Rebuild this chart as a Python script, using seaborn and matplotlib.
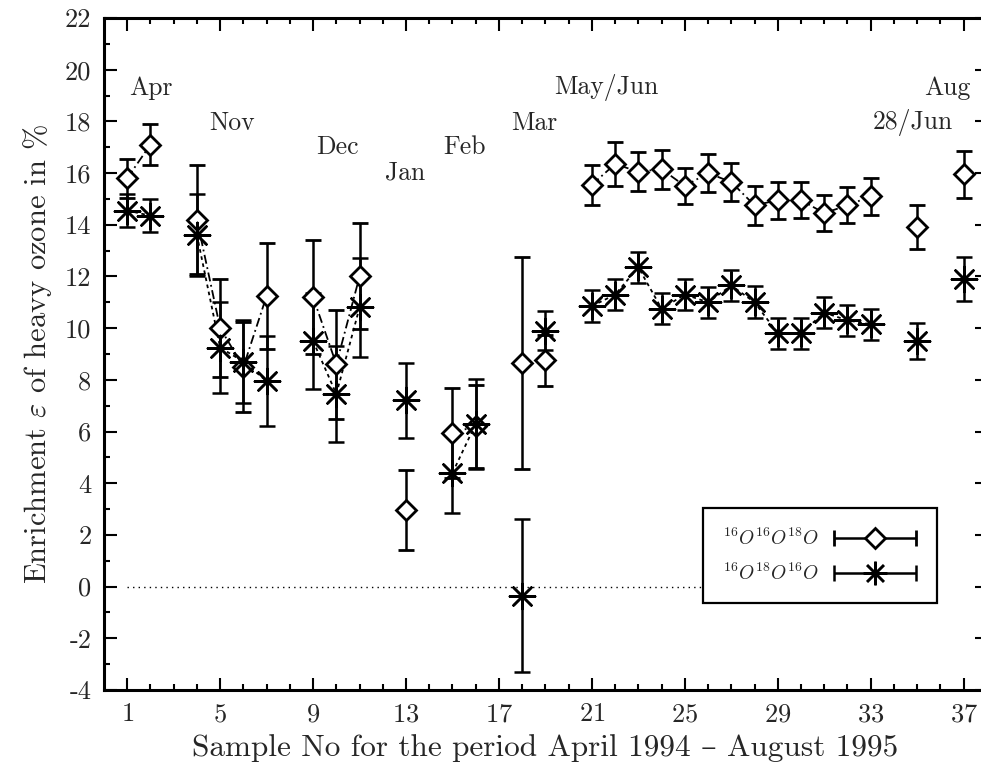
import numpy as np
import pandas as pd
import seaborn as sns
import matplotlib.pyplot as plt
from matplotlib.container import ErrorbarContainer
from matplotlib.legend_handler import HandlerErrorbar

# sample numbers and line segments (points in the same segment are joined)
samples = [1, 2, 4, 5, 6, 7, 9, 10, 11, 13, 15, 16, 18, 19,
           21, 22, 23, 24, 25, 26, 27, 28, 29, 30, 31, 32, 33, 35, 37]
segment = [0, 0, 1, 1, 1, 1, 2, 2, 2, 3, 4, 4, 5, 6,
           7, 7, 7, 7, 7, 7, 7, 7, 7, 7, 7, 7, 7, 8, 9]

# 16O16O18O (diamonds)
eps_668 = [15.8, 17.1, 14.2, 10.0, 8.5, 11.25, 11.2, 8.6, 12.0, 2.95, 5.95, 6.2, 8.65, 8.75,
           15.55, 16.35, 16.05, 16.15, 15.5, 16.0, 15.65, 14.75, 14.95, 14.95, 14.45, 14.75, 15.1,
           13.9, 15.95]
err_668 = [0.75, 0.8, 2.1, 1.9, 1.75, 2.05, 2.2, 2.1, 2.05, 1.55, 1.75, 1.6, 4.1, 1.0,
           0.78, 0.85, 0.75, 0.75, 0.7, 0.75, 0.75, 0.75, 0.72, 0.7, 0.7, 0.7, 0.72,
           0.85, 0.9]

# 16O18O16O (stars)
eps_686 = [14.55, 14.35, 13.6, 9.25, 8.7, 7.95, 9.5, 7.45, 10.8, 7.2, 4.4, 6.3, -0.35, 9.9,
           10.85, 11.3, 12.35, 10.75, 11.3, 11.0, 11.65, 11.0, 9.8, 9.8, 10.6, 10.3, 10.15,
           9.5, 11.9]
err_686 = [0.65, 0.65, 1.6, 1.75, 1.6, 1.75, 1.85, 1.85, 1.9, 1.45, 1.55, 1.75, 2.95, 0.75,
           0.63, 0.6, 0.6, 0.6, 0.6, 0.6, 0.6, 0.62, 0.6, 0.6, 0.6, 0.6, 0.6,
           0.7, 0.85]

months = ['Apr', 'Nov', 'Dec', 'Jan', 'Feb', 'Mar', 'May/Jun', 'Aug', '28/Jun']
month_x = [2.0, 5.5, 10.05, 12.95, 15.5, 18.5, 21.6, 36.3, 34.8]
month_y = [19.3, 17.95, 17.0, 16.0, 17.0, 17.95, 19.3, 19.3, 17.95]

df = pd.DataFrame({'sample': samples, 'seg': segment,
                   'e668': eps_668, 's668': err_668,
                   'e686': eps_686, 's686': err_686})

sns.set_theme(style='ticks')
plt.rcParams['font.family'] = ['cmr10', 'DejaVu Serif']
plt.rcParams['mathtext.fontset'] = 'cm'
plt.rcParams['axes.formatter.use_mathtext'] = True
plt.rcParams['axes.unicode_minus'] = False

fig = plt.figure(figsize=(9.81, 7.68), dpi=100)
ax = fig.add_axes([0.106, 0.1016, 0.900, 0.875])

# connecting lines
sns.lineplot(data=df, x='sample', y='e668', units='seg', estimator=None, sort=False,
             color='black', lw=1.3, linestyle=(0, (5, 2, 1, 2)), ax=ax)
sns.lineplot(data=df, x='sample', y='e686', units='seg', estimator=None, sort=False,
             color='black', lw=1.3, linestyle=(0, (2, 2)), ax=ax)

star = (8, 2, 0)
ax.errorbar(df['sample'], df['e668'], yerr=df['s668'], fmt='D', ms=10.5, mfc='white',
            mec='black', mew=2, ecolor='black', elinewidth=1.8, capsize=6, capthick=1.8,
            color='black', zorder=3)
ax.errorbar(df['sample'], df['e686'], yerr=df['s686'], fmt='none', ecolor='black',
            elinewidth=1.8, capsize=6, capthick=1.8, zorder=3)
sns.scatterplot(data=df, x='sample', y='e686', marker=star, s=330, color='black',
                linewidth=1.8, ax=ax, zorder=4)

ax.plot([1, 26], [0, 0], color='black', lw=1, linestyle=(0, (1, 3)))

for lab, mx, my in zip(months, month_x, month_y):
    ax.text(mx, my, lab, ha='center', va='center', fontsize=18.5)

# legend handles with horizontal error bars
h1 = ax.errorbar([np.nan], [np.nan], xerr=[1], fmt='D', ms=10.5, mfc='white', mec='black',
                 mew=2, ecolor='black', elinewidth=1.8, capsize=6, capthick=1.8, color='black')
h2 = ax.errorbar([np.nan], [np.nan], xerr=[1], marker=star, linestyle='none', ms=17, mew=1.8,
                 mec='black', ecolor='black', elinewidth=1.8, capsize=6, capthick=1.8,
                 color='black')
leg = ax.legend([h1, h2], [r'$^{16}O^{16}O^{18}O$', r'$^{16}O^{18}O^{16}O$'],
                loc='lower right', bbox_to_anchor=(0.944, 0.129), markerfirst=False,
                fontsize=14, fancybox=False, framealpha=1, edgecolor='black',
                handlelength=4.4, borderpad=1.0, labelspacing=0.7, handletextpad=0.7,
                borderaxespad=0,
                handler_map={ErrorbarContainer: HandlerErrorbar(xerr_size=2.1)})
leg.get_frame().set_linewidth(1.6)

ax.set_xlim(0, 38)
ax.set_ylim(-4, 22)
ax.set_xticks(np.arange(1, 38, 4))
ax.set_xticks(np.arange(1, 38, 1), minor=True)
ax.set_yticks(np.arange(-4, 23, 2))
ax.set_yticks(np.arange(-3, 22, 2), minor=True)
ax.set_yticklabels([str(v) for v in range(-4, 23, 2)])
ax.tick_params(which='both', direction='in', top=True, right=True, labelsize=19,
               width=1.5, color='black')
ax.tick_params(which='major', length=9, pad=9)
ax.tick_params(which='minor', length=4.5)
for sp in ax.spines.values():
    sp.set_linewidth(2.2)
    sp.set_color('black')

ax.set_xlabel('Sample No for the period April 1994 – August 1995', fontsize=22.5, labelpad=6)
ax.set_ylabel(r'Enrichment $\varepsilon$ of heavy ozone in %', fontsize=22, labelpad=8)

fig.savefig('out.png', dpi=100)
